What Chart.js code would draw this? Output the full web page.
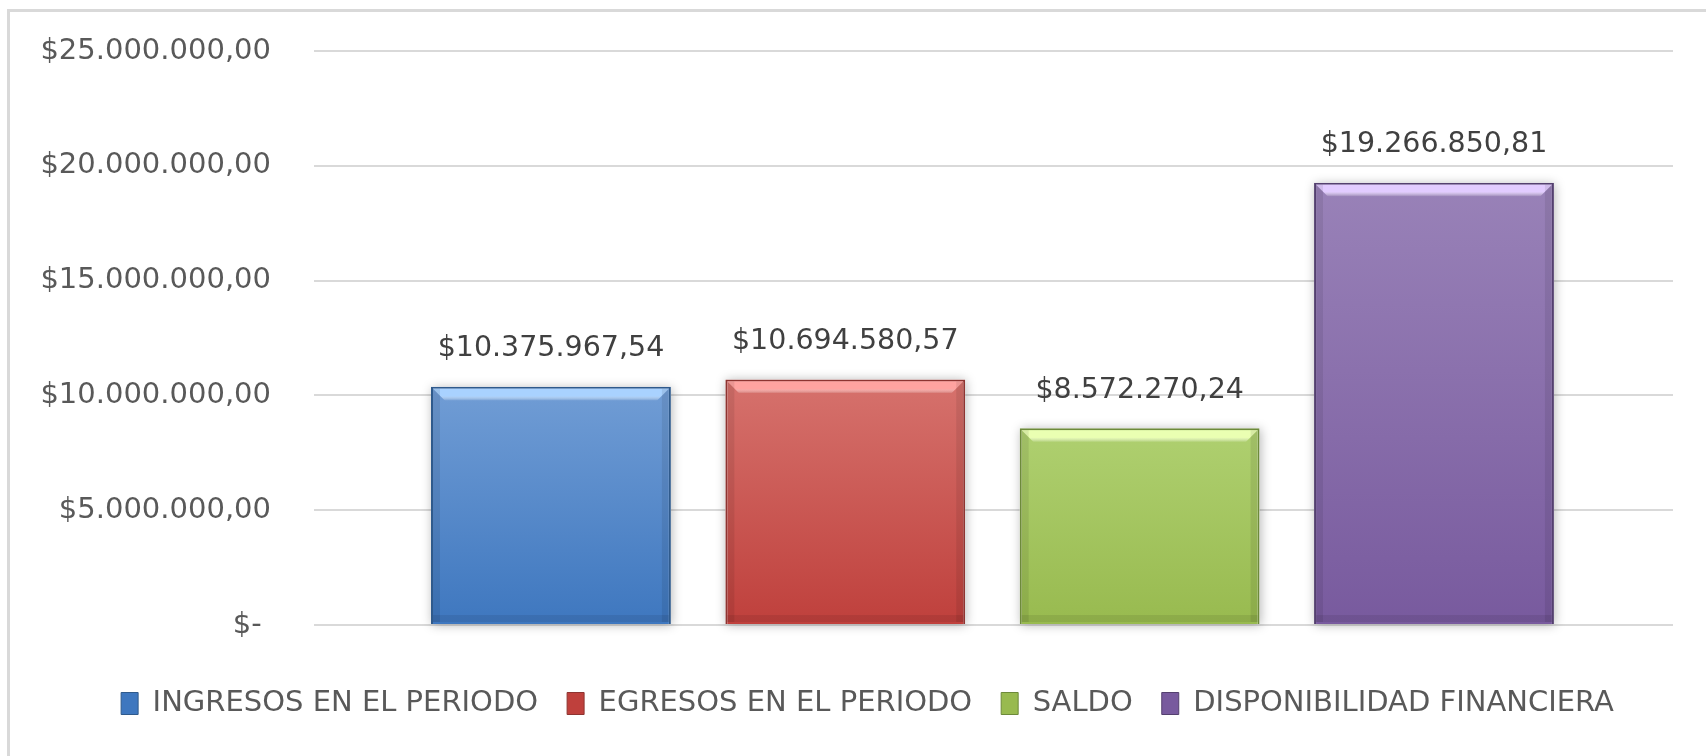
<!DOCTYPE html>
<html>
<head>
<meta charset="utf-8">
<script src="https://cdn.jsdelivr.net/npm/chart.js@4.4.1/dist/chart.umd.min.js"></script>
<style>
  html, body { margin: 0; padding: 0; background: #fff; overflow: hidden; }
  #chart { display: block; }
</style>
</head>
<body>
<canvas id="chart" width="1706" height="756"></canvas>
<script>
// data
const CATEGORIES = [
  "INGRESOS EN EL PERIODO",
  "EGRESOS EN EL PERIODO",
  "SALDO",
  "DISPONIBILIDAD FINANCIERA",
];
const VALUES = [10375967.54, 10694580.57, 8572270.24, 19266850.81];
const Y_TICKS = [0, 5000000, 10000000, 15000000, 20000000, 25000000];
const X_POSITIONS = [0, 1, 2, 3];

// office-ish bar colours: top of gradient, bottom, bevel band, edge
const TOP_COLORS = ["#719dd5", "#d6726d", "#afd070", "#9982b8"];
const BOTTOM_COLORS = ["#3e77bf", "#bf403c", "#98ba4f", "#785a9e"];
const BAND_COLORS = ["#a9d2ff", "#ffa3a0", "#eaffb2", "#e2cbff"];
const EDGE_COLORS = ["#2f5a8c", "#8e3431", "#6d8a3a", "#54406f"];

const FONT = "'DejaVu Sans', 'Liberation Sans', sans-serif";
const TEXT = "#595959";

function money(v) {
  if (v === 0) return "$- ";
  const [int, dec] = v.toFixed(2).split(".");
  return "$" + int.replace(/\B(?=(\d{3})+(?!\d))/g, ".") + "," + dec;
}

function barFill(i) {
  return (ctx) => {
    const chart = ctx.chart;
    const area = chart.chartArea;
    if (!area || ctx.type !== "data") return BOTTOM_COLORS[i];
    const yTop = chart.scales.y.getPixelForValue(ctx.parsed.y);
    const g = chart.ctx.createLinearGradient(0, yTop, 0, area.bottom);
    g.addColorStop(0, TOP_COLORS[i]);
    g.addColorStop(1, BOTTOM_COLORS[i]);
    return g;
  };
}

// thin chart frame (left and top edges only show in the crop)
const frame = {
  id: "frame",
  beforeDraw(chart) {
    const ctx = chart.ctx;
    ctx.save();
    ctx.strokeStyle = "#d9d9d9";
    ctx.lineWidth = 3;
    ctx.beginPath();
    ctx.moveTo(8.5, chart.height);
    ctx.lineTo(8.5, 10.5);
    ctx.lineTo(chart.width, 10.5);
    ctx.stroke();
    ctx.restore();
  },
};

// soft shadow behind each bar
const barShadow = {
  id: "barShadow",
  beforeDatasetsDraw(chart) {
    const ctx = chart.ctx;
    ctx.save();
    chart.data.datasets.forEach((ds, i) => {
      chart.getDatasetMeta(i).data.forEach((bar) => {
        const { x, y, width, base } = bar.getProps(["x", "y", "width", "base"], true);
        ctx.shadowColor = "rgba(0,0,0,0.28)";
        ctx.shadowBlur = 10;
        ctx.shadowOffsetX = 1;
        ctx.shadowOffsetY = 1;
        ctx.fillStyle = "#fff";
        ctx.fillRect(x - width / 2, y, width, base - y);
      });
    });
    ctx.restore();
  },
};

// bevel highlight + value labels on top of each bar
const bevelAndLabels = {
  id: "bevelAndLabels",
  afterDatasetsDraw(chart) {
    const ctx = chart.ctx;
    ctx.save();
    chart.data.datasets.forEach((ds, i) => {
      chart.getDatasetMeta(i).data.forEach((bar, j) => {
        const { x, y, width, base } = bar.getProps(["x", "y", "width", "base"], true);
        const l = x - width / 2 + 2, r = x + width / 2 - 2, t = y + 2;
        const g = ctx.createLinearGradient(0, t, 0, t + 12);
        g.addColorStop(0, BAND_COLORS[i]);
        g.addColorStop(0.6, BAND_COLORS[i]);
        g.addColorStop(1, "rgba(255,255,255,0)");
        ctx.fillStyle = g;
        ctx.beginPath();
        ctx.moveTo(l, t);
        ctx.lineTo(r, t);
        ctx.lineTo(r - 12, t + 12);
        ctx.lineTo(l + 12, t + 12);
        ctx.closePath();
        ctx.fill();
        // darker sides and foot
        ctx.fillStyle = "rgba(0,0,0,0.08)";
        ctx.fillRect(l, t, 7, base - t - 2);
        ctx.fillRect(r - 7, t, 7, base - t - 2);
        ctx.fillRect(l, base - 9, r - l, 7);

        ctx.fillStyle = "#404040";
        ctx.font = "28.5px " + FONT;
        ctx.textAlign = "center";
        ctx.textBaseline = "middle";
        ctx.fillText(money(ds.data[j].y), x, y - 38);
      });
    });
    ctx.restore();
  },
};

new Chart(document.getElementById("chart"), {
  type: "bar",
  data: {
    datasets: CATEGORIES.map((name, i) => ({
      label: name,
      data: [{ x: X_POSITIONS[i], y: VALUES[i] }],
      backgroundColor: barFill(i),
      borderColor: EDGE_COLORS[i],
      borderWidth: 2,
      grouped: false,
      barPercentage: 0.815,
      categoryPercentage: 1,
    })),
  },
  options: {
    responsive: false,
    animation: false,
    layout: { padding: { left: 30, right: 1, top: 51, bottom: 28 } },
    plugins: {
      tooltip: { enabled: false },
      legend: {
        position: "bottom",
        labels: {
          color: TEXT,
          font: { family: FONT, size: 29 },
          boxWidth: 17,
          boxHeight: 22,
          padding: 29,
          generateLabels: (chart) =>
            chart.data.datasets.map((ds, i) => ({
              text: ds.label,
              fillStyle: BOTTOM_COLORS[i],
              strokeStyle: EDGE_COLORS[i],
              lineWidth: 1,
              fontColor: TEXT,
              datasetIndex: i,
            })),
        },
      },
    },
    scales: {
      x: {
        type: "linear",
        min: -0.805,
        max: 3.812,
        offset: false,
        afterBuildTicks: (s) => { s.ticks = X_POSITIONS.map((v) => ({ value: v })); },
        grid: { display: false },
        border: { display: false },
        ticks: { display: false },
        afterFit: (s) => { s.height = 35; },
      },
      y: {
        min: 0,
        max: 25000000,
        afterBuildTicks: (s) => { s.ticks = Y_TICKS.map((v) => ({ value: v })); },
        afterFit: (s) => { s.width = 284; },
        grid: {
          color: "#d9d9d9",
          lineWidth: 2,
          drawTicks: true,
          tickLength: 41,
          tickColor: "rgba(0,0,0,0)",
        },
        border: { display: false },
        ticks: {
          padding: 2,
          color: TEXT,
          font: { family: FONT, size: 29 },
          callback: (v) => money(v),
        },
      },
      // empty right-hand gutter so the plot ends where the reference's does
      gutter: {
        type: "linear",
        position: "right",
        grid: { display: false },
        border: { display: false },
        ticks: { display: false },
        afterFit: (s) => { s.width = 32; },
      },
    },
  },
  plugins: [frame, barShadow, bevelAndLabels],
});
</script>
</body>
</html>
